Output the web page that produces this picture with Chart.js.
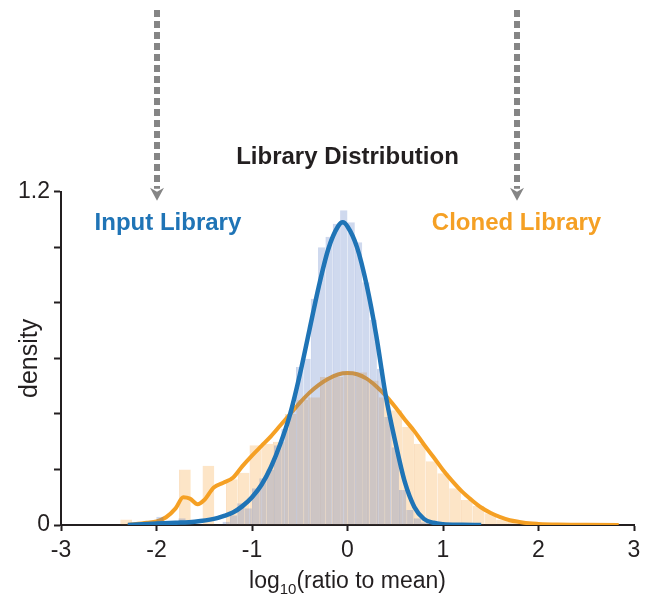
<!DOCTYPE html>
<html>
<head>
<meta charset="utf-8">
<script src="https://cdn.jsdelivr.net/npm/chart.js@4.4.1/dist/chart.umd.min.js"></script>
<style>
  html, body { margin: 0; padding: 0; background: #ffffff; }
  #wrap { width: 648px; height: 603px; }
</style>
</head>
<body>
<div id="wrap"><canvas id="chart" width="648" height="603"></canvas></div>
<script>
// ---- histogram bins: input library (centers, density) ----
const inputBinCenters = [
  -2.2715, -2.1945, -2.1175, -2.0405, -1.9635, -1.8865, -1.8095, -1.7325,
  -1.6555, -1.5785, -1.5015, -1.4245, -1.3475, -1.2705, -1.1935, -1.1165,
  -1.0395, -0.9625, -0.8855, -0.8085, -0.7315, -0.6545, -0.5775, -0.5005,
  -0.4235, -0.3465, -0.2695, -0.1925, -0.1155, -0.0385, 0.0385, 0.1155,
  0.1925, 0.2695, 0.3465, 0.4235, 0.5005, 0.5775, 0.6545, 0.7315,
  0.8085, 0.8855, 0.9625, 1.0395, 1.1165, 1.1935, 1.2705, 1.3475
];
const inputDensity = [
  0, 0, 0, 0, 0.03, 0, 0, 0.024,
  0, 0, 0, 0, 0, 0.012, 0.035, 0.078,
  0.06, 0.132, 0.168, 0.20, 0.287, 0.347, 0.413, 0.569,
  0.599, 0.815, 1.000, 1.038, 1.085, 1.134, 1.09, 1.018,
  0.874, 0.739, 0.563, 0.389, 0.28, 0.126, 0.054, 0.024,
  0.01, 0.005, 0, 0, 0.004, 0, 0, 0
];

// ---- histogram bins: cloned library (centers, density) ----
const clonedBinCenters = [
  -2.3175, -2.1945, -2.0715, -1.9485, -1.8255, -1.7025, -1.5795, -1.4565,
  -1.3335, -1.2105, -1.0875, -0.9645, -0.8415, -0.7185, -0.5955, -0.4725,
  -0.3495, -0.2265, -0.1035, 0.0195, 0.1425, 0.2655, 0.3885, 0.5115,
  0.6345, 0.7575, 0.8805, 1.0035, 1.1265, 1.2495, 1.3725, 1.4955,
  1.6185, 1.7415, 1.8645, 1.9875, 2.1105, 2.2335, 2.3565, 2.4795,
  2.6025, 2.7255
];
const clonedDensity = [
  0.02, 0, 0, 0, 0, 0.20, 0, 0.213,
  0, 0.165, 0.188, 0.287, 0.293, 0.30, 0.40, 0.45,
  0.46, 0.533, 0.533, 0.55, 0.55, 0.52, 0.46, 0.413,
  0.353, 0.293, 0.23, 0.186, 0.132, 0.09, 0.068, 0.042,
  0.02, 0.012, 0.006, 0.004, 0.003, 0.002, 0.002, 0.001,
  0.001, 0.001
];

// ---- kernel density curves ----
const inputKdeX = [
  -2.3, -2.0, -1.8, -1.6, -1.4, -1.3, -1.2, -1.1, -1.0, -0.9, -0.8, -0.7,
  -0.6, -0.5, -0.4, -0.3, -0.2, -0.1, -0.05, 0.0, 0.1, 0.2, 0.3, 0.4,
  0.5, 0.6, 0.7, 0.8, 0.9, 1.0, 1.2, 1.4
];
const inputKdeY = [
  0.0, 0.005, 0.008, 0.012, 0.022, 0.032, 0.045, 0.068, 0.10, 0.145, 0.21, 0.295,
  0.40, 0.54, 0.70, 0.86, 0.995, 1.075, 1.09, 1.075, 1.0, 0.865, 0.685, 0.467,
  0.30, 0.155, 0.065, 0.022, 0.008, 0.003, 0.001, 0.0
];
const clonedKdeX = [
  -2.3, -2.1, -2.0, -1.9, -1.8, -1.72, -1.65, -1.57, -1.5, -1.4, -1.3, -1.2,
  -1.1, -1.0, -0.9, -0.8, -0.7, -0.6, -0.5, -0.4, -0.3, -0.2, -0.1, 0.0,
  0.1, 0.2, 0.3, 0.4, 0.5, 0.6, 0.7, 0.8, 0.9, 1.0, 1.1, 1.2,
  1.3, 1.4, 1.5, 1.6, 1.7, 1.8, 1.9, 2.0, 2.2, 2.5, 2.84
];
const clonedKdeY = [
  0.0, 0.008, 0.013, 0.028, 0.06, 0.10, 0.095, 0.075, 0.09, 0.135, 0.152, 0.17,
  0.212, 0.25, 0.285, 0.32, 0.36, 0.40, 0.44, 0.476, 0.505, 0.527, 0.542, 0.547,
  0.543, 0.527, 0.50, 0.466, 0.425, 0.38, 0.338, 0.29, 0.245, 0.198, 0.157, 0.12,
  0.09, 0.063, 0.043, 0.028, 0.017, 0.011, 0.006, 0.004, 0.002, 0.001, 0.0
];

// ---- axis labelling ----
const yTickLabels = [0, 1.2];
const arrowTargets = [-2.0, 1.78];

const FONT = "'Liberation Sans', Arial, Helvetica, sans-serif";
const INK = '#231f20';
const BLUE = '#1f74b6';
const ORANGE = '#f5a024';

Chart.defaults.font.family = FONT;
Chart.defaults.color = INK;

const pairs = (xs, ys) => xs.map((x, i) => ({ x: x, y: ys[i] }));

// annotations: dashed arrows, series captions and the x-axis label with subscript
const annotations = {
  id: 'annotations',
  afterDraw(chart) {
    const { ctx, chartArea, scales } = chart;
    const xs = scales.x, ys = scales.y;
    ctx.save();

    // dashed arrows pointing into the plot
    arrowTargets.forEach((v) => {
      const px = Math.round(xs.getPixelForValue(v));
      const tipY = chartArea.top + 9;
      ctx.strokeStyle = '#858585';
      ctx.fillStyle = '#858585';
      ctx.lineWidth = 6;
      ctx.setLineDash([7, 4]);
      ctx.lineCap = 'butt';
      ctx.beginPath();
      ctx.moveTo(px, 10);
      ctx.lineTo(px, tipY - 12);
      ctx.stroke();
      ctx.setLineDash([]);
      ctx.beginPath();
      ctx.moveTo(px, tipY);
      ctx.lineTo(px - 7, tipY - 13);
      ctx.lineTo(px, tipY - 9);
      ctx.lineTo(px + 7, tipY - 13);
      ctx.closePath();
      ctx.fill();
    });

    // series captions
    ctx.font = 'bold 24px ' + FONT;
    ctx.textAlign = 'center';
    ctx.textBaseline = 'middle';
    ctx.fillStyle = BLUE;
    ctx.fillText('Input Library', xs.getPixelForValue(-1.88), ys.getPixelForValue(1.085));
    ctx.fillStyle = ORANGE;
    ctx.fillText('Cloned Library', xs.getPixelForValue(1.77), ys.getPixelForValue(1.085));

    // x-axis label: log10(ratio to mean) with a subscript
    const big = '23px ' + FONT, small = '15px ' + FONT;
    ctx.font = big; const w1 = ctx.measureText('log').width;
    ctx.font = small; const w2 = ctx.measureText('10').width;
    ctx.font = big; const w3 = ctx.measureText('(ratio to mean)').width;
    const total = w1 + w2 + w3;
    const x0 = (chartArea.left + chartArea.right) / 2 - total / 2;
    const base = 588;
    ctx.textAlign = 'left';
    ctx.textBaseline = 'alphabetic';
    ctx.fillStyle = INK;
    ctx.font = big; ctx.fillText('log', x0, base);
    ctx.font = small; ctx.fillText('10', x0 + w1, base + 6);
    ctx.font = big; ctx.fillText('(ratio to mean)', x0 + w1 + w2, base);
    ctx.restore();
  }
};

new Chart(document.getElementById('chart'), {
  type: 'bar',
  data: {
    datasets: [
      {
        type: 'line',
        label: 'Input Library density',
        data: pairs(inputKdeX, inputKdeY),
        xAxisID: 'x',
        borderColor: BLUE,
        borderWidth: 4.5,
        pointRadius: 0,
        cubicInterpolationMode: 'monotone',
        fill: false,
        order: 0
      },
      {
        type: 'bar',
        label: 'Input Library',
        data: pairs(inputBinCenters, inputDensity),
        xAxisID: 'x',
        backgroundColor: 'rgba(70,110,190,0.26)',
        borderColor: 'rgba(70,110,190,0.31)',
        borderWidth: { left: 1, right: 0, top: 0, bottom: 0 },
        barPercentage: 1,
        categoryPercentage: 1,
        grouped: false,
        inflateAmount: 0,
        order: 1
      },
      {
        type: 'line',
        label: 'Cloned Library density',
        data: pairs(clonedKdeX, clonedKdeY),
        xAxisID: 'x',
        borderColor: ORANGE,
        borderWidth: 4,
        pointRadius: 0,
        cubicInterpolationMode: 'monotone',
        fill: false,
        order: 2
      },
      {
        type: 'bar',
        label: 'Cloned Library',
        data: pairs(clonedBinCenters, clonedDensity),
        xAxisID: 'x2',
        backgroundColor: 'rgba(248,170,70,0.30)',
        borderColor: 'rgba(240,160,70,0.34)',
        borderWidth: { left: 1, right: 0, top: 0, bottom: 0 },
        barPercentage: 1,
        categoryPercentage: 1,
        grouped: false,
        inflateAmount: 0,
        order: 3
      }
    ]
  },
  options: {
    responsive: false,
    animation: false,
    devicePixelRatio: 1,
    layout: { padding: { top: 0, right: 14, bottom: 0, left: 0 } },
    plugins: {
      legend: { display: false },
      tooltip: { enabled: false },
      title: {
        display: true,
        text: 'Library Distribution',
        fullSize: false,
        color: INK,
        font: { size: 24, weight: 'bold' },
        padding: { top: 143, bottom: 20 }
      }
    },
    scales: {
      x: {
        type: 'linear',
        position: 'bottom',
        min: -3,
        max: 3,
        offset: false,
        z: 1,
        ticks: {
          stepSize: 1,
          autoSkip: false,
          maxRotation: 0,
          padding: 6,
          color: INK,
          font: { size: 23 },
          callback: (v) => String(v)
        },
        grid: {
          display: true,
          offset: false,
          drawOnChartArea: false,
          drawTicks: true,
          tickLength: 6,
          tickWidth: 2,
          tickColor: INK
        },
        border: { display: true, color: INK, width: 2 },
        afterFit: (s) => { s.height = 78; }
      },
      x2: {
        type: 'linear',
        display: false,
        min: -3,
        max: 3,
        offset: false,
        grid: { offset: false }
      },
      y: {
        min: 0,
        max: 1.2,
        z: 1,
        ticks: {
          stepSize: 0.2,
          padding: 4,
          color: INK,
          font: { size: 23 },
          callback: (v) => {
            const hit = yTickLabels.find((t) => Math.abs(t - v) < 1e-6);
            return hit === undefined ? '' : String(hit);
          }
        },
        grid: {
          display: true,
          drawOnChartArea: false,
          drawTicks: true,
          tickLength: 7,
          tickWidth: 2,
          tickColor: INK
        },
        border: { display: true, color: INK, width: 2 },
        title: {
          display: true,
          text: 'density',
          color: INK,
          font: { size: 25 },
          padding: { top: 15, bottom: 0 }
        },
        afterFit: (s) => { s.width = 61; }
      }
    }
  },
  plugins: [annotations]
});
</script>
</body>
</html>
